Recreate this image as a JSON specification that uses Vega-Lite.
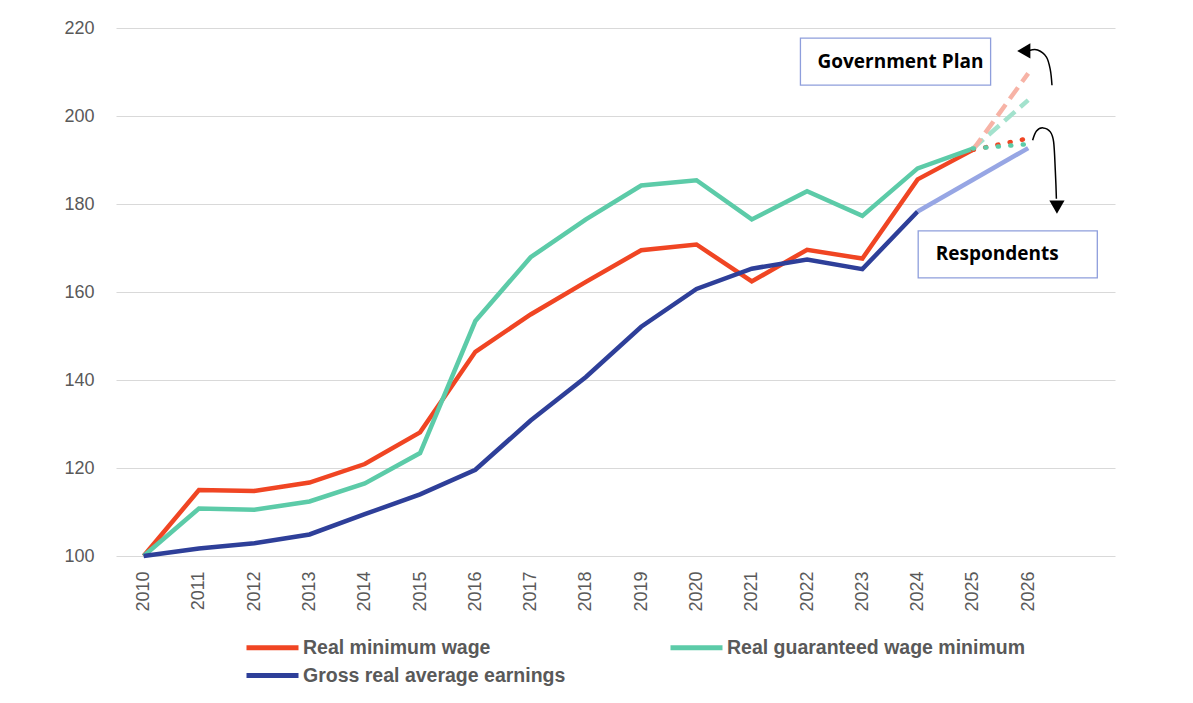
{
  "$schema": "https://vega.github.io/schema/vega-lite/v6.json",
  "width": 999,
  "height": 528,
  "autosize": {"type": "none"},
  "padding": {"left": 116, "top": 28, "right": 78, "bottom": 147},
  "background": "white",
  "config": {
    "view": {"stroke": null},
    "font": "Liberation Sans",
    "axis": {"labelFont": "Liberation Sans", "labelColor": "#595959", "labelFontSize": 18}
  },
  "datasets": {
    "main": [
      {"series": "Real minimum wage", "year": 2010, "value": 100},
      {"series": "Real minimum wage", "year": 2011, "value": 115.0},
      {"series": "Real minimum wage", "year": 2012, "value": 114.8},
      {"series": "Real minimum wage", "year": 2013, "value": 116.7},
      {"series": "Real minimum wage", "year": 2014, "value": 120.9},
      {"series": "Real minimum wage", "year": 2015, "value": 128.1},
      {"series": "Real minimum wage", "year": 2016, "value": 146.4},
      {"series": "Real minimum wage", "year": 2017, "value": 154.9},
      {"series": "Real minimum wage", "year": 2018, "value": 162.3},
      {"series": "Real minimum wage", "year": 2019, "value": 169.5},
      {"series": "Real minimum wage", "year": 2020, "value": 170.8},
      {"series": "Real minimum wage", "year": 2021, "value": 162.4},
      {"series": "Real minimum wage", "year": 2022, "value": 169.6},
      {"series": "Real minimum wage", "year": 2023, "value": 167.6},
      {"series": "Real minimum wage", "year": 2024, "value": 185.6},
      {"series": "Real minimum wage", "year": 2025, "value": 192.3},
      {"series": "Real guaranteed wage minimum", "year": 2010, "value": 100},
      {"series": "Real guaranteed wage minimum", "year": 2011, "value": 110.8},
      {"series": "Real guaranteed wage minimum", "year": 2012, "value": 110.5},
      {"series": "Real guaranteed wage minimum", "year": 2013, "value": 112.4},
      {"series": "Real guaranteed wage minimum", "year": 2014, "value": 116.5},
      {"series": "Real guaranteed wage minimum", "year": 2015, "value": 123.4},
      {"series": "Real guaranteed wage minimum", "year": 2016, "value": 153.4},
      {"series": "Real guaranteed wage minimum", "year": 2017, "value": 167.9},
      {"series": "Real guaranteed wage minimum", "year": 2018, "value": 176.5},
      {"series": "Real guaranteed wage minimum", "year": 2019, "value": 184.2},
      {"series": "Real guaranteed wage minimum", "year": 2020, "value": 185.4},
      {"series": "Real guaranteed wage minimum", "year": 2021, "value": 176.5},
      {"series": "Real guaranteed wage minimum", "year": 2022, "value": 182.9},
      {"series": "Real guaranteed wage minimum", "year": 2023, "value": 177.3},
      {"series": "Real guaranteed wage minimum", "year": 2024, "value": 188.1},
      {"series": "Real guaranteed wage minimum", "year": 2025, "value": 192.6},
      {"series": "Gross real average earnings", "year": 2010, "value": 100},
      {"series": "Gross real average earnings", "year": 2011, "value": 101.7},
      {"series": "Gross real average earnings", "year": 2012, "value": 102.9},
      {"series": "Gross real average earnings", "year": 2013, "value": 104.9},
      {"series": "Gross real average earnings", "year": 2014, "value": 109.5},
      {"series": "Gross real average earnings", "year": 2015, "value": 114.0},
      {"series": "Gross real average earnings", "year": 2016, "value": 119.6},
      {"series": "Gross real average earnings", "year": 2017, "value": 130.8},
      {"series": "Gross real average earnings", "year": 2018, "value": 140.7},
      {"series": "Gross real average earnings", "year": 2019, "value": 152.1},
      {"series": "Gross real average earnings", "year": 2020, "value": 160.7},
      {"series": "Gross real average earnings", "year": 2021, "value": 165.3},
      {"series": "Gross real average earnings", "year": 2022, "value": 167.4},
      {"series": "Gross real average earnings", "year": 2023, "value": 165.2},
      {"series": "Gross real average earnings", "year": 2024, "value": 178.3}
    ],
    "proj": [
      {"key": "gov-min", "year": 2025, "value": 192.3},
      {"key": "gov-min", "year": 2026, "value": 209.7},
      {"key": "gov-guar", "year": 2025, "value": 192.6},
      {"key": "gov-guar", "year": 2026, "value": 203.6},
      {"key": "resp-min", "year": 2025, "value": 192.3},
      {"key": "resp-min", "year": 2026, "value": 194.9},
      {"key": "resp-guar", "year": 2025, "value": 192.6},
      {"key": "resp-guar", "year": 2026, "value": 193.6},
      {"key": "resp-earn", "year": 2024, "value": 178.3},
      {"key": "resp-earn", "year": 2026, "value": 192.7}
    ],
    "boxes": [
      {"label": "Government Plan", "x1": 2021.88, "x2": 2025.32, "y1": 217.7, "y2": 207.0, "tx": 2023.69, "ty": 212.3},
      {"label": "Respondents", "x1": 2024.01, "x2": 2027.25, "y1": 173.9, "y2": 163.2, "tx": 2025.44, "ty": 168.6}
    ],
    "arrows": [
      {"arrow": "gov", "i": 1, "x": 2026.43, "y": 207.0},
      {"arrow": "gov", "i": 2, "x": 2026.40, "y": 210.5},
      {"arrow": "gov", "i": 3, "x": 2026.33, "y": 213.4},
      {"arrow": "gov", "i": 4, "x": 2026.17, "y": 215.0},
      {"arrow": "gov", "i": 5, "x": 2026.02, "y": 214.9},
      {"arrow": "resp", "i": 1, "x": 2026.08, "y": 194.5},
      {"arrow": "resp", "i": 2, "x": 2026.15, "y": 196.6},
      {"arrow": "resp", "i": 3, "x": 2026.27, "y": 197.3},
      {"arrow": "resp", "i": 4, "x": 2026.40, "y": 196.4},
      {"arrow": "resp", "i": 5, "x": 2026.46, "y": 194.1},
      {"arrow": "resp", "i": 6, "x": 2026.49, "y": 187.7},
      {"arrow": "resp", "i": 7, "x": 2026.51, "y": 181.2}
    ],
    "heads": [
      {"arrow": "gov", "x": 2025.92, "y": 214.8},
      {"arrow": "resp", "x": 2026.52, "y": 179.3}
    ]
  },
  "layer": [
    {
      "data": {"name": "main"},
      "mark": {"type": "line", "strokeWidth": 4.5, "strokeJoin": "miter"},
      "encoding": {
        "x": {
          "field": "year", "type": "quantitative",
          "scale": {"domain": [2009.5, 2027.57], "nice": false, "zero": false},
          "axis": {
            "title": null, "values": [2010,2011,2012,2013,2014,2015,2016,2017,2018,2019,2020,2021,2022,2023,2024,2025,2026],
            "format": "d", "labelAngle": -90, "labelAlign": "right", "labelBaseline": "middle",
            "grid": false, "domain": false, "ticks": false, "labelPadding": 15
          }
        },
        "y": {
          "field": "value", "type": "quantitative",
          "scale": {"domain": [100, 220], "nice": false, "zero": false},
          "axis": {
            "title": null, "values": [100,120,140,160,180,200,220],
            "grid": true, "gridColor": "#D9D9D9", "gridWidth": 1.2,
            "domain": false, "ticks": false, "labelPadding": 22
          }
        },
        "color": {
          "field": "series", "type": "nominal",
          "scale": {
            "domain": ["Real minimum wage", "Real guaranteed wage minimum", "Gross real average earnings"],
            "range": ["#F04523", "#5CCBA8", "#2E3F99"]
          },
          "legend": {
            "title": null, "orient": "none", "legendX": 128, "legendY": 607, "direction": "horizontal",
            "columns": 2, "columnPadding": 94, "rowPadding": 5,
            "symbolType": "M-1,0H4.2", "symbolSize": 400, "symbolStrokeWidth": 5,
            "labelFont": "Liberation Sans", "labelFontWeight": "bold", "labelFontSize": 19.5,
            "labelColor": "#595959", "labelOffset": 34, "labelLimit": 400
          }
        }
      }
    },
    {
      "data": {"name": "proj"},
      "transform": [{"filter": "datum.key === 'resp-earn'"}],
      "mark": {"type": "line", "strokeWidth": 4.5, "color": "#97A6E4"},
      "encoding": {"x": {"field": "year", "type": "quantitative"}, "y": {"field": "value", "type": "quantitative"}}
    },
    {
      "data": {"name": "proj"},
      "transform": [{"filter": "datum.key === 'gov-guar'"}],
      "mark": {"type": "line", "strokeWidth": 4.5, "color": "#A3E2CD", "strokeDash": [14, 7]},
      "encoding": {"x": {"field": "year", "type": "quantitative"}, "y": {"field": "value", "type": "quantitative"}}
    },
    {
      "data": {"name": "proj"},
      "transform": [{"filter": "datum.key === 'gov-min'"}],
      "mark": {"type": "line", "strokeWidth": 4.5, "color": "#F7B3A6", "strokeDash": [14, 7]},
      "encoding": {"x": {"field": "year", "type": "quantitative"}, "y": {"field": "value", "type": "quantitative"}}
    },
    {
      "data": {"name": "proj"},
      "transform": [{"filter": "datum.key === 'resp-min'"}],
      "mark": {"type": "line", "strokeWidth": 4.5, "color": "#F04523", "strokeDash": [1, 11.5], "strokeCap": "round"},
      "encoding": {"x": {"field": "year", "type": "quantitative"}, "y": {"field": "value", "type": "quantitative"}}
    },
    {
      "data": {"name": "proj"},
      "transform": [{"filter": "datum.key === 'resp-guar'"}],
      "mark": {"type": "line", "strokeWidth": 4.5, "color": "#5CCBA8", "strokeDash": [1, 11.5], "strokeCap": "round"},
      "encoding": {"x": {"field": "year", "type": "quantitative"}, "y": {"field": "value", "type": "quantitative"}}
    },
    {
      "data": {"name": "boxes"},
      "mark": {"type": "rect", "fill": "white", "stroke": "#8E9EDC", "strokeWidth": 1.3},
      "encoding": {
        "x": {"field": "x1", "type": "quantitative"}, "x2": {"field": "x2"},
        "y": {"field": "y1", "type": "quantitative"}, "y2": {"field": "y2"}
      }
    },
    {
      "data": {"name": "boxes"},
      "mark": {"type": "text", "font": "Open Sans", "fontWeight": "bold", "fontSize": 19, "color": "black", "align": "center", "baseline": "middle"},
      "encoding": {
        "x": {"field": "tx", "type": "quantitative"},
        "y": {"field": "ty", "type": "quantitative"},
        "text": {"field": "label"}
      }
    },
    {
      "data": {"name": "arrows"},
      "mark": {"type": "line", "color": "black", "strokeWidth": 1.5, "interpolate": "cardinal"},
      "encoding": {
        "x": {"field": "x", "type": "quantitative"},
        "y": {"field": "y", "type": "quantitative"},
        "detail": {"field": "arrow"},
        "order": {"field": "i"}
      }
    },
    {
      "data": {"name": "heads"},
      "transform": [{"filter": "datum.arrow === 'gov'"}],
      "mark": {"type": "point", "shape": "triangle-left", "filled": true, "color": "black", "size": 230, "opacity": 1},
      "encoding": {"x": {"field": "x", "type": "quantitative"}, "y": {"field": "y", "type": "quantitative"}}
    },
    {
      "data": {"name": "heads"},
      "transform": [{"filter": "datum.arrow === 'resp'"}],
      "mark": {"type": "point", "shape": "triangle-down", "filled": true, "color": "black", "size": 230, "opacity": 1},
      "encoding": {"x": {"field": "x", "type": "quantitative"}, "y": {"field": "y", "type": "quantitative"}}
    }
  ]
}
